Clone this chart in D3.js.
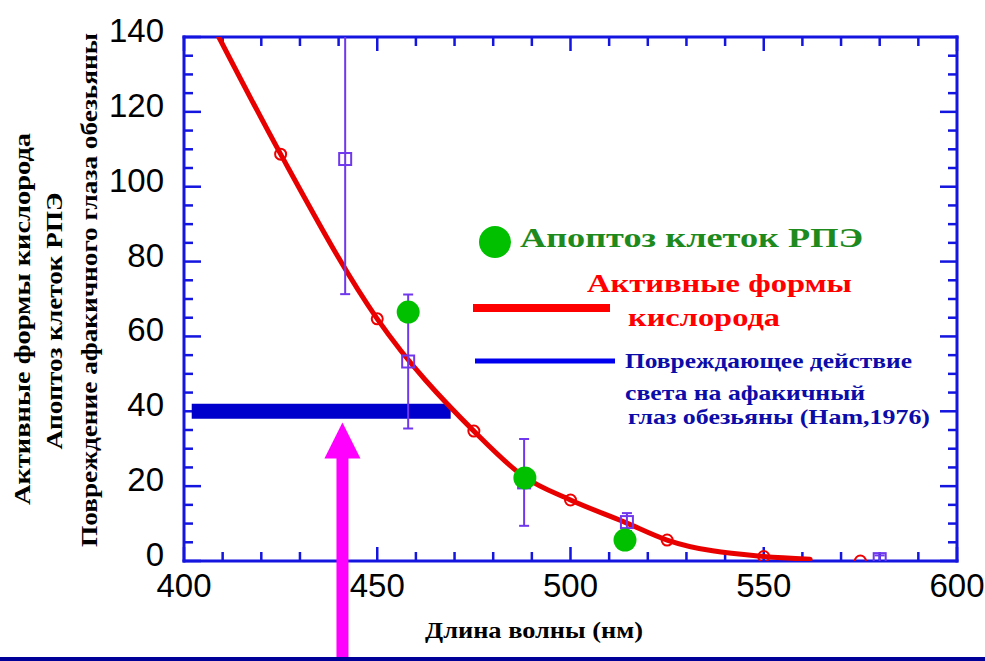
<!DOCTYPE html>
<html>
<head>
<meta charset="utf-8">
<script src="https://cdn.jsdelivr.net/npm/d3@7"></script>
<style>
  html, body { margin: 0; padding: 0; background: #ffffff; }
  svg { display: block; }
</style>
</head>
<body>
<svg id="chart" width="985" height="661"></svg>
<script>
// ---- data ----
const xTicks = [400, 450, 500, 550, 600];
const yTicks = [0, 20, 40, 60, 80, 100, 120, 140];
const xMinor = [410, 420, 430, 440, 460, 470, 480, 490, 510, 520, 530, 540, 560, 570, 580, 590];
const yMinor = [5, 10, 15, 25, 30, 35, 45, 50, 55, 65, 70, 75, 85, 90, 95, 105, 110, 115, 125, 130, 135];

// Active oxygen forms (red open circles)
const oxWl  = [425, 450, 475, 500, 525, 550, 575];
const oxVal = [108.7, 64.7, 34.7, 16.3, 5.6, 1.2, 0];

// fitted red curve
const fitWl  = [409, 425, 450, 475, 488, 500, 514, 525, 550, 562];
const fitVal = [140, 108.7, 64.7, 34.7, 22.5, 16.3, 10.4, 5.6, 1.2, 0.5];

// Ham 1976 points (purple squares, with error bars)
const hamWl  = [441.7, 458, 488, 514.6, 580];
const hamVal = [107.4, 53.3, 21, 10.4, 0.5];
const hamErr = [36.1, 17.9, 11.6, 2.4, 1];

// RPE apoptosis (green dots)
const apoWl  = [458, 488.2, 514.1];
const apoVal = [66.5, 22.2, 5.6];

// Damage band of the aphakic monkey eye (blue bar)
const bandWl = [402, 469];
const bandVal = 40;

// Arrow position
const arrowWl = 441;
const arrowTipVal = 37;

const yTitle = ["Активные формы кислорода", "Апоптоз клеток РПЭ", "Повреждение афакичного глаза обезьяны"];
const xTitle = "Длина волны (нм)";
const legApo = "Апоптоз клеток РПЭ";
const legOx = ["Активные формы", "кислорода"];
const legHam = ["Повреждающее действие", "света на афакичный", "глаз обезьяны (Ham,1976)"];

// ---- drawing ----
const svg = d3.select("#chart");
const W = 985, H = 661;
const L = 184, R = 957, T = 37, B = 561;
const x = d3.scaleLinear().domain([400, 600]).range([L, R]);
const y = d3.scaleLinear().domain([0, 140]).range([B, T]);

const axisCol = "#1515e0";
const serif = "'Liberation Serif', 'Times New Roman', serif";
const sans = "'Liberation Sans', Arial, sans-serif";

svg.append("rect").attr("width", W).attr("height", H).attr("fill", "#fff");

svg.append("defs").append("clipPath").attr("id", "plotClip")
  .append("rect").attr("x", L).attr("y", T).attr("width", R - L).attr("height", B - T);

// ---- frame + inward ticks (drawn as filled rects for crispness) ----
const gAx = svg.append("g").attr("fill", axisCol);
const lw = 3;
gAx.append("rect").attr("x", L - 1.5).attr("y", T - 1.5).attr("width", R - L + 3).attr("height", lw);
gAx.append("rect").attr("x", L - 1.5).attr("y", B - 1.5).attr("width", R - L + 3).attr("height", lw);
gAx.append("rect").attr("x", L - 1.5).attr("y", T - 1.5).attr("width", lw).attr("height", B - T + 3);
gAx.append("rect").attr("x", R - 1.5).attr("y", T - 1.5).attr("width", lw).attr("height", B - T + 3);
const xt = xTicks.map(v => ({v, len: 14})).concat(xMinor.map(v => ({v, len: 9})));
const yt = yTicks.map(v => ({v, len: 17})).concat(yMinor.map(v => ({v, len: 9})));
gAx.selectAll("rect.xb").data(xt).join("rect").attr("class", "xb")
  .attr("x", d => x(d.v) - 1.25).attr("width", 2.5).attr("y", d => B - d.len).attr("height", d => d.len);
gAx.selectAll("rect.xt").data(xt).join("rect").attr("class", "xt")
  .attr("x", d => x(d.v) - 1.25).attr("width", 2.5).attr("y", T).attr("height", d => d.len);
gAx.selectAll("rect.yl").data(yt).join("rect").attr("class", "yl")
  .attr("y", d => y(d.v) - 1.25).attr("height", 2.5).attr("x", L).attr("width", d => d.len);
gAx.selectAll("rect.yr").data(yt).join("rect").attr("class", "yr")
  .attr("y", d => y(d.v) - 1.25).attr("height", 2.5).attr("x", d => R - d.len).attr("width", d => d.len);

// tick labels
svg.append("g").selectAll("text").data(yTicks).join("text")
  .attr("x", 164).attr("y", d => y(d) + 5)
  .attr("text-anchor", "end").attr("font-family", sans).attr("font-size", 33)
  .attr("fill", "#000").text(d => d);
svg.append("g").selectAll("text").data(xTicks).join("text")
  .attr("x", d => x(d)).attr("y", 597)
  .attr("text-anchor", "middle").attr("font-family", sans).attr("font-size", 33)
  .attr("fill", "#000").text(d => d);

// axis titles
const yT = [
  {cx: 30, cy: 319, len: 372},
  {cx: 62, cy: 321, len: 257},
  {cx: 97, cy: 290, len: 514}
];
svg.append("g").selectAll("text").data(yTitle).join("text")
  .attr("transform", (d, i) => `translate(${yT[i].cx},${yT[i].cy}) rotate(-90)`)
  .attr("text-anchor", "middle").attr("font-family", serif).attr("font-weight", "bold")
  .attr("font-size", 23).attr("fill", "#000")
  .attr("textLength", (d, i) => yT[i].len).attr("lengthAdjust", "spacingAndGlyphs")
  .text(d => d);
svg.append("text").attr("x", 534).attr("y", 638).attr("text-anchor", "middle")
  .attr("font-family", serif).attr("font-weight", "bold").attr("font-size", 23)
  .attr("fill", "#000").attr("textLength", 218).attr("lengthAdjust", "spacingAndGlyphs")
  .text(xTitle);

// plot contents
const plot = svg.append("g").attr("clip-path", "url(#plotClip)");

plot.append("line")
  .attr("x1", x(bandWl[0])).attr("x2", x(bandWl[1]))
  .attr("y1", y(bandVal)).attr("y2", y(bandVal))
  .attr("stroke", "#0000cc").attr("stroke-width", 15);

const fit = fitWl.map((w, i) => [w, fitVal[i]]);
plot.append("path").datum(fit)
  .attr("d", d3.line().x(d => x(d[0])).y(d => y(d[1])).curve(d3.curveMonotoneX))
  .attr("fill", "none").attr("stroke", "#e80000").attr("stroke-width", 5)
  .attr("stroke-linecap", "round");

plot.append("g").selectAll("circle").data(oxWl).join("circle")
  .attr("cx", d => x(d)).attr("cy", (d, i) => y(oxVal[i])).attr("r", 5.5)
  .attr("fill", "none").attr("stroke", "#ee0000").attr("stroke-width", 2);

const purple = "#7038ec";
const ham = hamWl.map((w, i) => ({w, v: hamVal[i], e: hamErr[i]}));
const gh = plot.append("g").attr("stroke", purple).attr("stroke-width", 2).attr("fill", "none");
gh.selectAll("line.v").data(ham).join("line").attr("class", "v")
  .attr("x1", d => x(d.w)).attr("x2", d => x(d.w))
  .attr("y1", d => y(d.v + d.e)).attr("y2", d => y(d.v - d.e));
gh.selectAll("line.t").data(ham).join("line").attr("class", "t")
  .attr("x1", d => x(d.w) - 5).attr("x2", d => x(d.w) + 5)
  .attr("y1", d => y(d.v + d.e)).attr("y2", d => y(d.v + d.e));
gh.selectAll("line.b").data(ham).join("line").attr("class", "b")
  .attr("x1", d => x(d.w) - 5).attr("x2", d => x(d.w) + 5)
  .attr("y1", d => y(d.v - d.e)).attr("y2", d => y(d.v - d.e));
gh.selectAll("rect").data(ham).join("rect")
  .attr("x", d => x(d.w) - 6).attr("y", d => y(d.v) - 6)
  .attr("width", 12).attr("height", 12);

plot.append("g").selectAll("circle").data(apoWl).join("circle")
  .attr("cx", d => x(d)).attr("cy", (d, i) => y(apoVal[i])).attr("r", 11.5)
  .attr("fill", "#00c000");

// legend
svg.append("circle").attr("cx", 495).attr("cy", 242).attr("r", 16).attr("fill", "#00c000");
svg.append("text").attr("x", 520).attr("y", 247)
  .attr("font-family", serif).attr("font-weight", "bold").attr("font-size", 28)
  .attr("fill", "#1e8a1e").attr("textLength", 343).attr("lengthAdjust", "spacingAndGlyphs")
  .text(legApo);
svg.append("line").attr("x1", 473).attr("x2", 610).attr("y1", 308).attr("y2", 308)
  .attr("stroke", "#ff0000").attr("stroke-width", 8);
const oxPos = [{x: 587, y: 292, len: 265}, {x: 628, y: 326, len: 152}];
svg.append("g").selectAll("text").data(legOx).join("text")
  .attr("x", (d, i) => oxPos[i].x).attr("y", (d, i) => oxPos[i].y)
  .attr("font-family", serif).attr("font-weight", "bold").attr("font-size", 26)
  .attr("fill", "#ff0000").attr("textLength", (d, i) => oxPos[i].len)
  .attr("lengthAdjust", "spacingAndGlyphs").text(d => d);
svg.append("line").attr("x1", 475).attr("x2", 615).attr("y1", 361).attr("y2", 361)
  .attr("stroke", "#0000ee").attr("stroke-width", 5);
const hamPos = [{x: 625, y: 368, len: 287}, {x: 625, y: 400, len: 240}, {x: 628, y: 424, len: 302}];
svg.append("g").selectAll("text").data(legHam).join("text")
  .attr("x", (d, i) => hamPos[i].x).attr("y", (d, i) => hamPos[i].y)
  .attr("font-family", serif).attr("font-weight", "bold").attr("font-size", 22)
  .attr("fill", "#0c0ca8").attr("textLength", (d, i) => hamPos[i].len)
  .attr("lengthAdjust", "spacingAndGlyphs").text(d => d);

// magenta arrow
const ax = x(arrowWl), tip = y(arrowTipVal);
svg.append("rect").attr("x", ax - 6).attr("y", tip + 30).attr("width", 12).attr("height", H - tip - 30)
  .attr("fill", "#ff00ff");
svg.append("path")
  .attr("d", `M${ax},${tip} L${ax + 18},${tip + 36} L${ax - 18},${tip + 36} Z`)
  .attr("fill", "#ff00ff");

// bottom border
svg.append("rect").attr("x", 0).attr("y", 657).attr("width", W).attr("height", 4).attr("fill", "#000099");
</script>
</body>
</html>
